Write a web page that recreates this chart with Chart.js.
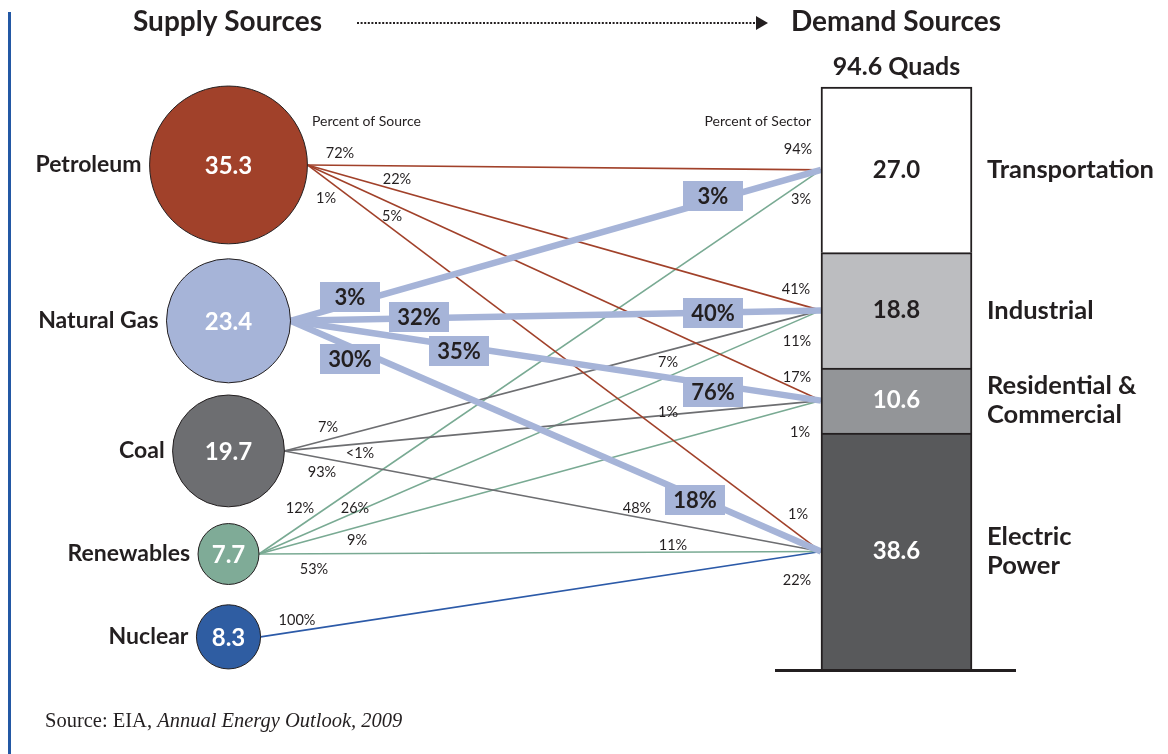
<!DOCTYPE html>
<html>
<head>
<meta charset="utf-8">
<script src="https://cdn.jsdelivr.net/npm/chart.js@4.4.0/dist/chart.umd.min.js"></script>
<style>
  html, body { margin: 0; padding: 0; background: #fff; }
  #wrap { position: relative; width: 1168px; height: 754px; }
</style>
</head>
<body>
<div id="wrap"><canvas id="flowChart" width="1168" height="754"></canvas></div>
<script>
// supply side (quads)
const sources = ['Petroleum', 'Natural Gas', 'Coal', 'Renewables', 'Nuclear'];
const supply = [35.3, 23.4, 19.7, 7.7, 8.3];

// demand side (quads), top of the column first
const sectors = ['Transportation', 'Industrial', 'Residential &\nCommercial', 'Electric\nPower'];
const demand = [27.0, 18.8, 10.6, 38.6];
const totalLabel = '94.6 Quads';

// flows: source index -> sector index, with the two shares
const flowFrom = [0, 0, 0, 0, 1, 1, 1, 1, 2, 2, 2, 3, 3, 3, 3, 4];
const flowTo = [0, 1, 2, 3, 0, 1, 2, 3, 1, 2, 3, 0, 1, 2, 3, 3];
const pctOfSource = ['72%', '22%', '5%', '1%', '3%', '32%', '35%', '30%', '7%', '<1%', '93%', '12%', '26%', '9%', '53%', '100%'];
const pctOfSector = ['94%', '41%', '17%', '1%', '3%', '40%', '76%', '18%', '7%', '1%', '48%', '3%', '11%', '1%', '11%', '22%'];

// ---- layout / styling ----
const W = 1168, H = 754;
const sourceColors = ['#A1412A', '#A6B4D8', '#6D6E71', '#7FAB97', '#2F5DA2'];
const lineColors = ['#A1412A', '#A6B4D8', '#6D6E71', '#79AA93', '#2C5AA8'];
const sectorColors = ['#FFFFFF', '#BCBDC0', '#939598', '#58595B'];
const sectorTextColors = ['#231F20', '#231F20', '#FFFFFF', '#FFFFFF'];
const sourceX = 228.5;
const sourceRow = [82.3, 56.9, 35.7, 18.9, 5.4]; // vertical slot of each circle, in quad units
const barX = 896.5, barWidth = 151;
const highlight = 1; // natural gas flows are emphasised
const srcLabelAt = [[340, 153], [397, 179], [392, 216], [326, 198], [350, 297], [419, 317], [459, 351], [350, 359],
  [328, 427], [360, 453], [322, 472], [300, 508], [355, 508], [357, 540], [314, 569], [297, 620]];
const secLabelAt = [[798, 149], [796, 289], [797, 377], [798, 514], [713, 196], [713, 313], [713, 392], [695, 500],
  [668, 362], [668, 412], [637, 508], [801, 199], [797, 341], [800, 432], [673, 545], [797, 580]];
const dark = '#231F20';
const sans = 'Lato, "Open Sans", sans-serif';

const radius = (v) => 15.3 * Math.sqrt(v) - 12;

// bottom of each sector in the stacked column
const sectorBase = demand.map((d, i) => demand.slice(i + 1).reduce((a, b) => a + b, 0));
const sectorMid = demand.map((d, i) => sectorBase[i] + d / 2);

const datasets = [];

datasets.push({
  type: 'bubble',
  data: sources.map((s, i) => ({ x: sourceX, y: sourceRow[i], r: radius(supply[i]) })),
  backgroundColor: sourceColors,
  borderColor: dark,
  borderWidth: 1,
  order: 0,
  yAxisID: 'y',
});

// stacked column, bottom segment first
const barIndex = [];
for (let i = sectors.length - 1; i >= 0; i--) {
  barIndex[i] = datasets.length;
  datasets.push({
    type: 'bar',
    label: sectors[i],
    data: [{ x: barX, y: demand[i] }],
    backgroundColor: sectorColors[i],
    borderColor: dark,
    borderWidth: 2,
    barThickness: barWidth,
    stack: 'demand',
    order: 1,
    yAxisID: 'yBar',
  });
}

flowFrom.forEach((s, k) => {
  const t = flowTo[k];
  datasets.push({
    type: 'line',
    data: [
      { x: sourceX + radius(supply[s]), y: sourceRow[s] },
      { x: barX - barWidth / 2, y: sectorMid[t] },
    ],
    borderColor: lineColors[s],
    borderWidth: s === highlight ? 6.5 : 1.6,
    pointRadius: 0,
    fill: false,
    tension: 0,
    order: s === highlight ? 2 : 3,
    yAxisID: 'y',
  });
});

function text(ctx, str, x, y, font, color, align) {
  ctx.font = font;
  ctx.fillStyle = color;
  ctx.textAlign = align || 'center';
  ctx.textBaseline = 'middle';
  ctx.fillText(str, x, y);
}

const decorations = {
  id: 'decorations',
  afterDatasetsDraw(chart) {
    const ctx = chart.ctx;
    const yBar = chart.scales.yBar;
    ctx.save();

    // left rule
    ctx.fillStyle = '#2358A4';
    ctx.fillRect(8, 12, 3, H - 12);

    // headings and dotted arrow
    ctx.font = 'bold 28px ' + sans;
    ctx.fillStyle = dark;
    ctx.textAlign = 'left';
    ctx.textBaseline = 'alphabetic';
    ctx.fillText('Supply Sources', 133, 31);
    ctx.fillText('Demand Sources', 791, 31);
    ctx.strokeStyle = dark;
    ctx.lineWidth = 2;
    ctx.setLineDash([2, 1.6]);
    ctx.beginPath();
    ctx.moveTo(357, 23);
    ctx.lineTo(756, 23);
    ctx.stroke();
    ctx.setLineDash([]);
    ctx.beginPath();
    ctx.moveTo(756, 16);
    ctx.lineTo(768, 23);
    ctx.lineTo(756, 30);
    ctx.closePath();
    ctx.fill();

    text(ctx, 'Percent of Source', 312, 121, '14px ' + sans, dark, 'left');
    text(ctx, 'Percent of Sector', 811, 121, '14px ' + sans, dark, 'right');

    // baseline under the column
    const y0 = yBar.getPixelForValue(0);
    ctx.fillStyle = dark;
    ctx.fillRect(barX - barWidth / 2 - 46, y0 - 1, barWidth + 90, 3);

    // column total
    const topPx = yBar.getPixelForValue(sectorBase[0] + demand[0]);
    text(ctx, totalLabel, barX, topPx - 20, 'bold 25px ' + sans, dark);

    // sector values and names
    sectors.forEach((name, i) => {
      const el = chart.getDatasetMeta(barIndex[i]).data[0];
      const mid = (el.y + el.base) / 2;
      text(ctx, demand[i].toFixed(1), el.x, mid, 'bold 24px ' + sans, sectorTextColors[i]);
      const lines = name.split('\n');
      lines.forEach((ln, j) => {
        text(ctx, ln, el.x + barWidth / 2 + 15, mid + (j - (lines.length - 1) / 2) * 29, 'bold 25.5px ' + sans, dark, 'left');
      });
    });

    // source values and names
    const bubbles = chart.getDatasetMeta(0).data;
    sources.forEach((name, i) => {
      const el = bubbles[i];
      const r = radius(supply[i]);
      text(ctx, supply[i].toFixed(1), el.x, el.y + 1, 'bold 24px ' + sans, '#FFFFFF');
      text(ctx, name, el.x - r - 8, el.y, 'bold 23px ' + sans, dark, 'right');
    });

    // flow shares
    flowFrom.forEach((s, k) => {
      if (s === highlight) {
        [[pctOfSource[k], srcLabelAt[k]], [pctOfSector[k], secLabelAt[k]]].forEach(([lbl, p]) => {
          ctx.fillStyle = '#A6B4D8';
          ctx.fillRect(p[0] - 30, p[1] - 15, 60, 30);
          text(ctx, lbl, p[0], p[1] + 1, 'bold 22px ' + sans, dark);
        });
      } else {
        text(ctx, pctOfSource[k], srcLabelAt[k][0], srcLabelAt[k][1], '14.5px ' + sans, dark);
        text(ctx, pctOfSector[k], secLabelAt[k][0], secLabelAt[k][1], '14.5px ' + sans, dark);
      }
    });

    // source note
    ctx.font = '20.5px "Liberation Serif", serif';
    ctx.fillStyle = dark;
    ctx.textAlign = 'left';
    ctx.textBaseline = 'alphabetic';
    const lead = 'Source: EIA, ';
    ctx.fillText(lead, 45, 727);
    const leadW = ctx.measureText(lead).width;
    ctx.font = 'italic 20.5px "Liberation Serif", serif';
    ctx.fillText('Annual Energy Outlook, 2009', 45 + leadW, 727);

    ctx.restore();
  },
};

const yMin = -(H - 670) / 6.137;
const yMax = 95 + 87 / 6.137;

new Chart(document.getElementById('flowChart').getContext('2d'), {
  type: 'bubble',
  data: { datasets: datasets },
  options: {
    responsive: false,
    animation: false,
    events: [],
    layout: { padding: 0, autoPadding: false },
    scales: {
      x: { type: 'linear', min: 0, max: W, display: false, offset: false },
      y: { type: 'linear', min: yMin, max: yMax, display: false },
      yBar: { type: 'linear', min: yMin, max: yMax, display: false, stacked: true },
    },
    plugins: {
      legend: { display: false },
      tooltip: { enabled: false },
    },
  },
  plugins: [decorations],
});
</script>
</body>
</html>
